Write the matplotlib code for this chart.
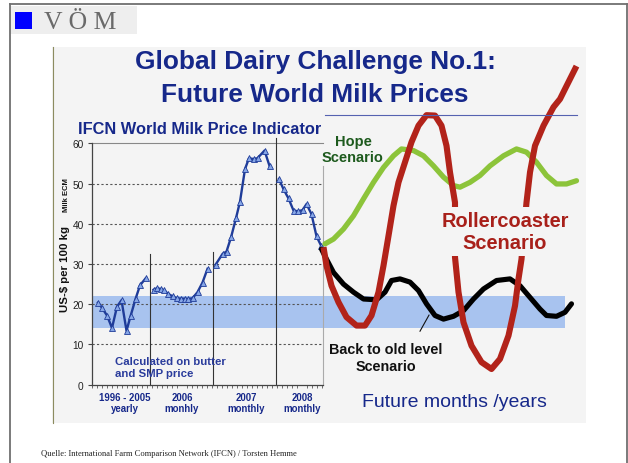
import matplotlib
matplotlib.use('Agg')
import matplotlib.pyplot as plt
import numpy as np
from matplotlib.patches import Rectangle
from matplotlib.lines import Line2D

plt.rcParams['font.family'] = ['Liberation Sans', 'DejaVu Sans']

# ---------------- data ----------------
# historical IFCN world milk price indicator (US-$ per 100 kg milk ECM)
hist_yearly_x = [1.2, 2.0, 3.0, 4.0, 5.0, 5.9, 6.9, 7.7, 8.7, 9.6, 10.7]
hist_yearly_y = [20.4, 19.1, 17.2, 14.1, 19.4, 21.0, 13.4, 17.0, 21.3, 24.7, 26.4]
hist_2006_x = [12.3, 13.0, 13.7, 14.4, 15.2, 16.1, 16.9, 17.7, 18.5, 19.2, 20.1, 21.1, 22.1, 23.1]
hist_2006_y = [23.6, 24.0, 23.8, 23.5, 22.6, 22.0, 21.5, 21.4, 21.4, 21.3, 21.5, 23.0, 25.4, 28.8]
hist_2007_x = [24.7, 26.1, 26.9, 27.8, 28.8, 29.6, 30.6, 31.4, 32.3, 33.1, 34.5, 35.5]
hist_2007_y = [29.8, 32.5, 33.1, 36.6, 41.4, 45.5, 53.6, 56.3, 56.1, 56.3, 58.2, 54.4]
hist_2008_x = [37.4, 38.3, 39.3, 40.3, 41.2, 42.1, 42.9, 43.9, 44.9, 45.8]
hist_2008_y = [51.1, 48.6, 46.3, 43.3, 43.1, 43.4, 44.9, 42.4, 36.9, 34.6]

# future scenarios (sketched curves)
hope_x = [46.6, 48.3, 50.3, 52.3, 54.3, 56.3, 58.3, 60.3, 61.9, 64.3, 66.3, 68.3, 70.3,
          72.3, 73.6, 75.6, 77.6, 79.6, 82.3, 84.9, 86.9, 88.9, 90.9, 92.9, 94.9, 96.9]
hope_y = [35.0, 36.2, 38.7, 42.0, 46.2, 50.3, 54.0, 56.9, 58.6, 58.2, 56.9, 54.4, 51.6,
          49.5, 49.1, 50.3, 52.0, 54.4, 56.9, 58.6, 57.8, 55.3, 52.0, 49.9, 49.9, 50.7]

old_x = [45.9, 46.9, 48.3, 50.3, 52.3, 54.3, 56.9, 58.6, 59.9, 61.6, 63.6, 65.3, 66.9, 68.6,
         70.3, 72.3, 74.3, 76.3, 78.3, 80.9, 83.6, 85.6, 87.6, 89.6, 90.9, 92.9, 94.6, 95.9]
old_y = [33.7, 31.2, 27.9, 25.0, 23.0, 21.3, 21.1, 23.0, 25.9, 26.3, 25.5, 23.4, 20.1, 17.2,
         16.3, 17.0, 18.4, 21.3, 23.8, 25.9, 26.3, 24.6, 21.7, 18.8, 17.2, 17.0, 18.0, 20.1]

roller_x = [46.3, 46.9, 47.9, 49.3, 50.9, 52.9, 54.6, 55.9, 57.3, 58.3, 59.3, 60.3, 61.3,
            62.6, 63.9, 65.3, 66.9, 68.6, 69.9, 70.9, 71.6, 72.6, 72.6, 73.3, 74.3, 75.9,
            77.9, 79.9, 81.6, 83.3, 84.6, 85.3, 85.9, 86.9, 87.6, 88.6, 90.3, 92.3, 93.6,
            94.6, 96.9]
roller_y = [34.2, 29.6, 24.6, 20.5, 16.8, 14.7, 14.7, 17.2, 23.0, 29.6, 37.0, 44.5, 50.3,
            55.3, 60.3, 64.4, 67.0, 66.9, 64.4, 59.4, 52.8, 45.3, 31.7, 23.0, 15.5, 9.7,
            5.6, 3.9, 6.4, 12.2, 19.6, 26.3, 31.2, 45.3, 52.8, 59.4, 64.4, 69.0, 71.0,
            73.5, 79.2]

band_low, band_high = 14, 22
band_x_end = 94.6
hist_x_end = 46.2
y_ticks = [0, 10, 20, 30, 40, 50, 60]
grid_levels = [10, 20, 30, 40, 50]
period_centers = [6.6, 18.0, 30.8, 42.0]
period_labels = ['1996 - 2005\nyearly', '2006\nmonhly', '2007\nmonthly', '2008\nmonthly']
separators_x = [11.6, 24.2, 36.8]
separators_top = [32.5, 33.0, 61.3]

# ---------------- figure ----------------
W, H = 628, 464
fig = plt.figure(figsize=(W / 100, H / 100), dpi=100)
fig.patch.set_facecolor('white')


def fx(px):
    return px / W


def fy(py):
    return 1 - py / H


NAVY = '#16288a'
BG = '#f4f4f4'

# slide frame
for xs, ys in [([10, 10], [5, 464]), ([10, 627], [5, 5]), ([627, 627], [5, 464])]:
    fig.add_artist(Line2D([fx(v) for v in xs], [fy(v) for v in ys], color='#707070', lw=1.3))

# inner picture background
fig.add_artist(Rectangle((fx(52), fy(424)), fx(586) - fx(52), fy(48) - fy(424),
                         facecolor=BG, edgecolor='none', zorder=-2))
fig.add_artist(Line2D([fx(52.5), fx(52.5)], [fy(48), fy(424)], color='#8c8c60', lw=0.8))

# VOM logo
fig.add_artist(Rectangle((fx(10), fy(35)), fx(137) - fx(10), fy(7) - fy(35),
                         facecolor='#eeeeee', edgecolor='none', zorder=-1))
fig.add_artist(Rectangle((fx(15), fy(29.5)), fx(32) - fx(15), fy(13) - fy(29.5),
                         facecolor='#0000ff', edgecolor='none'))
fig.text(fx(44), fy(29.3), 'V Ö M', family='Liberation Serif', fontsize=18.5,
         color='#6a6a6a', ha='left', va='baseline')

# titles
fig.text(fx(315), fy(69), 'Global Dairy Challenge No.1:', fontsize=18.9, fontweight='bold',
         color=NAVY, ha='center', va='baseline')
fig.text(fx(315), fy(101.7), 'Future World Milk Prices', fontsize=18.9, fontweight='bold',
         color=NAVY, ha='center', va='baseline')
fig.text(fx(78), fy(134), 'IFCN World Milk Price Indicator', fontsize=11.8, fontweight='bold',
         color=NAVY, ha='left', va='baseline')
fig.add_artist(Line2D([fx(325), fx(577)], [fy(116), fy(116)], color='#5562b0', lw=0.8))

# y label
fig.text(fx(65), fy(269.5), 'US-$ per 100 kg', rotation=90, fontsize=8.2, fontweight='bold',
         color='#111111', ha='center', va='center')
fig.text(fx(66), fy(195), 'Milk ECM', rotation=90, fontsize=5.5, fontweight='bold',
         color='#111111', ha='center', va='center')

# footer
fig.text(fx(40.7), fy(456.5), 'Quelle: International Farm Comparison Network (IFCN) / Torsten Hemme',
         family='Liberation Serif', fontsize=6.1, color='#222222', ha='left', va='baseline')

# ---------------- axes ----------------
ax_bottom_px = 385.7 + 10 * 4.023
ax_top_px = 385.7 - 82 * 4.023
ax = fig.add_axes([fx(92), fy(ax_bottom_px), 500 / W, (ax_bottom_px - ax_top_px) / H])
ax.set_xlim(0, 100)
ax.set_ylim(-10, 82)
ax.set_facecolor('none')
for s in ['top', 'right']:
    ax.spines[s].set_visible(False)
ax.spines['left'].set_position(('data', 0))
ax.spines['left'].set_bounds(0, 60)
ax.spines['bottom'].set_position(('data', 0))
ax.spines['bottom'].set_bounds(0, hist_x_end)
for s in ['left', 'bottom']:
    ax.spines[s].set_color('#444444')
    ax.spines[s].set_linewidth(0.9)

ax.set_yticks(y_ticks)
ax.set_yticklabels([str(v) for v in y_ticks])
ax.tick_params(axis='y', length=3, width=0.8, color='#444444', pad=3, labelsize=7.3,
               labelcolor='#222222')
ax.set_xticks(period_centers)
ax.set_xticklabels(period_labels, fontsize=6.9, fontweight='bold', color=NAVY, linespacing=1.2)
ax.tick_params(axis='x', which='major', length=0, pad=5)
ax.set_xticks(np.arange(0, hist_x_end, 1.0), minor=True)
ax.tick_params(axis='x', which='minor', length=2, width=0.6, color='#555555')

# top line at 60
ax.plot([0, hist_x_end], [60, 60], color='#888888', lw=0.8, zorder=1)
# dotted grid
for g in grid_levels:
    ax.plot([0, hist_x_end], [g, g], color='#555555', lw=0.8, ls=(0, (2, 2)), zorder=2)
# band
ax.fill_between([0, band_x_end], band_low, band_high, color='#a8c3ef', lw=0, zorder=1)
# separators
for sx, st in zip(separators_x, separators_top):
    ax.plot([sx, sx], [0, st], color='#333333', lw=0.8, zorder=2)
ax.plot([hist_x_end, hist_x_end], [0, 54.4], color='#aaaaaa', lw=0.8, zorder=2)

# historical series
for xs, ys in [(hist_yearly_x, hist_yearly_y), (hist_2006_x, hist_2006_y),
               (hist_2007_x, hist_2007_y), (hist_2008_x, hist_2008_y)]:
    ax.plot(xs, ys, color='#1f3c99', lw=1.7, marker='^', markersize=3.8,
            markerfacecolor='#86a6e6', markeredgecolor='#1f3c99', markeredgewidth=0.6, zorder=3)

# scenarios
ax.plot(hope_x, hope_y, color='#8cc43a', lw=3.8, solid_joinstyle='round',
        solid_capstyle='round', zorder=4)
ax.plot(old_x, old_y, color='#000000', lw=3.7, solid_joinstyle='round',
        solid_capstyle='round', zorder=4)
ax.plot(roller_x, roller_y, color='#b2231a', lw=4.4, solid_joinstyle='round',
        solid_capstyle='butt', zorder=5)

# annotations (va='baseline' aligns the last line of multi-line text)
ax.text(4.6, 2.2, 'Calculated on butter\nand SMP price', fontsize=8.2,
        fontweight='bold', color='#2a3c9c', ha='left', va='baseline', linespacing=1.2, zorder=6)
ax.text(52.2, 55.7, 'Hope\nScenario', fontsize=10.5, fontweight='bold', color='#1d5a1d',
        ha='center', va='baseline', linespacing=1.15, zorder=6)
ax.text(82.6, 33.9, 'Rollercoaster\nScenario', fontsize=14.4, fontweight='bold',
        color='#a8201a', ha='center', va='baseline', linespacing=1.2, zorder=7,
        bbox=dict(boxstyle='square,pad=0.2', facecolor=BG, edgecolor='none'))
ax.text(58.8, 3.7, 'Back to old level\nScenario', fontsize=10.4, fontweight='bold',
        color='#111111', ha='center', va='baseline', linespacing=1.25, zorder=6)
ax.plot([65.6, 67.4], [13.3, 17.3], color='#111111', lw=0.8, zorder=6)
ax.text(72.5, -5.2, 'Future months /years', fontsize=14, color=NAVY,
        ha='center', va='baseline', zorder=6)

fig.savefig('out.png', dpi=100)
